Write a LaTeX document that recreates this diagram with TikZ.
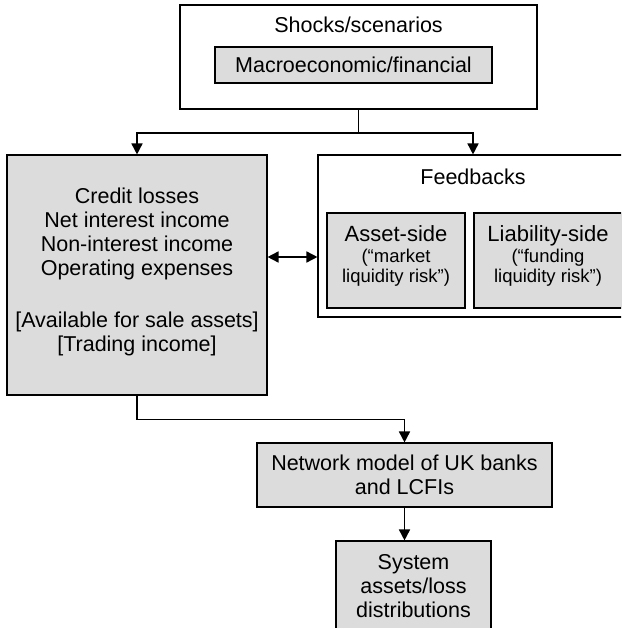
\documentclass[tikz,border=0pt]{standalone}
\usepackage{fontspec}
\setmainfont{Liberation Sans}
\usetikzlibrary{arrows.meta}
\definecolor{boxgray}{RGB}{220,220,220}
\newcommand{\feedhead}{\fontsize{22}{20.5}\selectfont}
\begin{document}
\begin{tikzpicture}
[x=1pt,y=-1pt,
  boxdecorate/.style={shape=rectangle,draw,line width=1.1pt,inner sep=0pt,
    align=center,font=\fontsize{21.5}{24}\selectfont},
  graydecorate/.style={boxdecorate,fill=boxgray},
  smalldecorate/.style={graydecorate,font=\fontsize{18.5}{20.5}\selectfont,
    text depth=12pt},
  titledecorate/.style={font=\fontsize{21.5}{24}\selectfont},
  linedecorate/.style={line width=1.6pt},
  arrowdecorate/.style={linedecorate,-{Triangle[length=11pt,width=11pt]}},
  twowaydecorate/.style={linedecorate,
    {Triangle[length=11pt,width=11pt]}-{Triangle[length=11pt,width=11pt]}}]
\clip (0,0) rectangle (621,628);
%% nodes or boxes
\node (shocks) at (358.5,57) [boxdecorate,minimum width=357pt,minimum height=104pt] {};
\node (shockstitle) at (358.5,25) [titledecorate] {Shocks/scenarios};
\node (macro) at (353.5,65) [graydecorate,minimum width=277pt,minimum height=36pt]
  {Macroeconomic/financial};
\node (losses) at (137,275) [graydecorate,minimum width=260pt,minimum height=240pt,
  text depth=10pt]
  {Credit losses\\Net interest income\\Non-interest income\\Operating expenses\\[28pt]%
  {[Available for sale assets]}\\{[Trading income]}};
\node (feedbacks) at (473,236) [boxdecorate,minimum width=310pt,minimum height=162pt] {};
\node (feedtitle) at (473,177) [titledecorate] {Feedbacks};
\node (asset) at (396,260.5) [smalldecorate,minimum width=138pt,minimum height=95pt]
  {{\feedhead Asset-side}\\(“market\\liquidity risk”)};
\node (liability) at (548,260.5) [smalldecorate,minimum width=148pt,minimum height=95pt]
  {{\feedhead Liability-side}\\(“funding\\liquidity risk”)};
\node (network) at (404.5,475) [graydecorate,minimum width=295pt,minimum height=64pt]
  {Network model of UK banks\\and LCFIs};
\node (system) at (413.5,586) [graydecorate,minimum width=155pt,minimum height=90pt]
  {System\\assets/loss\\distributions};
%% edges or lines
\coordinate (split) at (shocks.south |- 0,133);
\coordinate (mid) at ([yshift=18pt]losses.east);
\draw[linedecorate] (shocks.south) -- (split);
\foreach \endnode in {losses, feedbacks} {
  \draw[arrowdecorate] (split) -| (\endnode.north);
}
\draw[twowaydecorate] (mid) -- (mid -| feedbacks.west);
\draw[arrowdecorate] (losses.south) -- ++(0,24) -| (network.north);
\draw[arrowdecorate] (network.south) -- (network.south |- system.north);
\end{tikzpicture}
\end{document}
